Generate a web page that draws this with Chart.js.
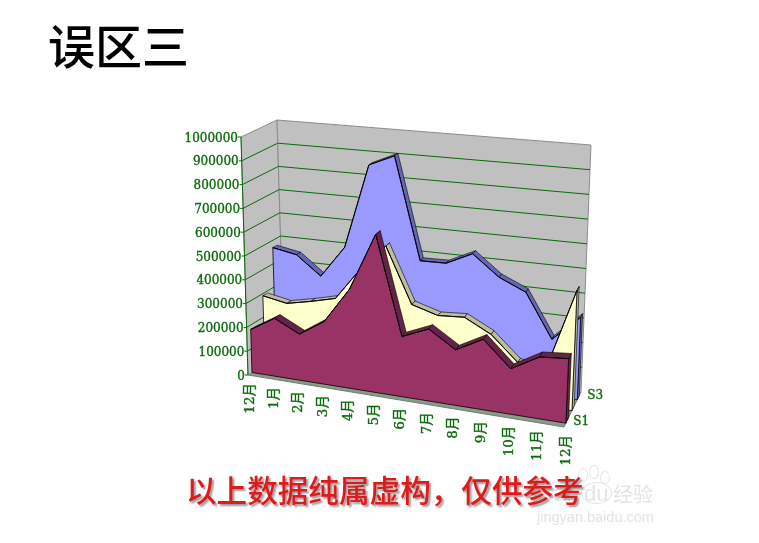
<!DOCTYPE html>
<html>
<head>
<meta charset="utf-8">
<script src="https://cdn.jsdelivr.net/npm/chart.js@4/dist/chart.umd.min.js"></script>
<style>
    html, body { margin: 0; padding: 0; background: #fff; }
    #wrap { position: relative; width: 759px; height: 543px; overflow: hidden; }
    #title { position: absolute; left: 48px; top: 11px; font: 500 47px/66px "Noto Sans CJK SC", sans-serif; color: #000; }
    .wm { position: absolute; color: #e4e4e4; white-space: nowrap; }
    .paw { position: absolute; border: 1px solid #e6e6e6; border-radius: 50%; box-sizing: border-box; }
    #note { position: absolute; left: 186px; top: 467px; font: 500 30.6px/44px "Noto Sans CJK SC", sans-serif; color: #e01a1a; text-shadow: 2px 2px 2px #999; white-space: nowrap; }
    canvas { position: absolute; left: 0; top: 0; }
</style>
</head>
<body>
<div id="wrap">
    <canvas id="areaChart" width="759" height="543"></canvas>
    <div id="title">误区三</div>
    <div class="paw" style="left:578px;top:468px;width:10px;height:14px"></div>
    <div class="paw" style="left:589px;top:465px;width:10px;height:14px"></div>
    <div class="paw" style="left:600px;top:471px;width:10px;height:13px"></div>
    <div class="paw" style="left:581px;top:482px;width:31px;height:22px"></div>
    <div class="wm" style="left:537px;top:478px;font:24px/30px 'Liberation Sans',sans-serif">Bai</div>
    <div class="wm" style="left:584px;top:480px;font:22px/28px 'Liberation Sans',sans-serif">du</div>
    <div class="wm" style="left:613px;top:480px;font:20px/28px 'Noto Sans CJK SC',sans-serif">经验</div>
    <div class="wm" style="left:537px;top:508px;font:14.5px/18px 'Liberation Sans',sans-serif">jingyan.baidu.com</div>
    <div id="note">以上数据纯属虚构，仅供参考</div>
</div>
<script>
const months = ['12月', '1月', '2月', '3月', '4月', '5月', '6月', '7月', '8月', '9月', '10月', '11月', '12月'];
const seriesNames = ['S1', 'S2', 'S3'];
const s1 = [181000, 243000, 192000, 260000, 408000, 646000, 244000, 290000, 222000, 280000, 179000, 242000, 252000];
const s2 = [291000, 272000, 294000, 320000, 455000, 564000, 336000, 305000, 312000, 257000, 159000, 144000, 476000];
const s3 = [469000, 450000, 371000, 505000, 862000, 910000, 484000, 486000, 537000, 453000, 405000, 228000, 330000];

const faceColors = ['#993366', '#FFFFCC', '#9999FF'];
const sideColors = ['#66224A', '#BDBD9C', '#6666B8'];
const depths = [[0.11, 0.27], [0.47, 0.60], [0.78, 0.90]];
const axisGreen = '#0A6B0A';
const valueFont = '12px "DejaVu Serif", "Noto Sans CJK SC", serif';
const monthFont = '13.5px "DejaVu Serif", "Noto Sans CJK SC", serif';

// corners of the 3d box on the page
const FBL = [248, 375], FBR = [564, 427], FTL = [241, 137], FTR = [575, 170];
const BBL = [284, 352], BBR = [581, 392], BTL = [277, 120], BTR = [591, 145];

function lerp(a, b, t) {
    return [a[0] + (b[0] - a[0]) * t, a[1] + (b[1] - a[1]) * t];
}

// u along months, v along values, d into the depth
function project(u, v, d) {
    const w = 0.91 * u / (1 - 0.09 * u);
    const front = lerp(lerp(FBL, FBR, w), lerp(FTL, FTR, w), v);
    const back = lerp(lerp(BBL, BBR, w), lerp(BTL, BTR, w), v);
    return lerp(front, back, d);
}

function poly(ctx, pts, fill, stroke, lw) {
    ctx.beginPath();
    pts.forEach((p, i) => i ? ctx.lineTo(p[0], p[1]) : ctx.moveTo(p[0], p[1]));
    ctx.closePath();
    if (fill) {
        ctx.fillStyle = fill;
        ctx.fill();
    }
    if (stroke) {
        ctx.strokeStyle = stroke;
        ctx.lineWidth = lw || 1;
        ctx.stroke();
    }
}

function toUV(chart, x, y) {
    const a = chart.chartArea;
    return [(x - a.left) / (a.right - a.left), (a.bottom - y) / (a.bottom - a.top)];
}

function heavyText(ctx, text, x, y) {
    ctx.fillText(text, x, y);
    ctx.strokeText(text, x, y);
}

const box3d = {
    id: 'box3d',
    afterDatasetsUpdate(chart) {
        // move the points the scales placed onto their plane in the box
        chart.data.datasets.forEach((ds, k) => {
            const meta = chart.getDatasetMeta(k);
            meta.uv = meta.data.map(pt => toUV(chart, pt.x, pt.y));
            meta.data.forEach((pt, i) => {
                const p = project(meta.uv[i][0], meta.uv[i][1], depths[k][0]);
                pt.x = p[0];
                pt.y = p[1];
            });
        });
    },
    beforeDatasetsDraw(chart) {
        const ctx = chart.ctx;
        const yScale = chart.scales.y;
        const xScale = chart.scales.x;
        ctx.save();
        poly(ctx, [FBL, FBR, BBR, BBL], '#8A9A8A', '#6F806F');
        poly(ctx, [FBL, FTL, BTL, BBL], '#C0C0C0', '#8C8C8C');
        poly(ctx, [BBL, BTL, BTR, BBR], '#C0C0C0', '#8C8C8C');

        ctx.strokeStyle = axisGreen;
        ctx.lineWidth = 1;
        yScale.ticks.forEach(t => {
            const v = toUV(chart, 0, yScale.getPixelForValue(t.value))[1];
            if (t.value > 0 && t.value < yScale.max) {
                const a = project(0, v, 0), b = project(0, v, 1), c = project(1, v, 1);
                ctx.beginPath();
                ctx.moveTo(a[0], a[1]);
                ctx.lineTo(b[0], b[1]);
                ctx.lineTo(c[0], c[1]);
                ctx.stroke();
            }
        });
        // axis lines and ticks
        ctx.beginPath();
        ctx.moveTo(FBL[0], FBL[1]);
        ctx.lineTo(FTL[0], FTL[1]);
        ctx.stroke();
        yScale.ticks.forEach(t => {
            const v = toUV(chart, 0, yScale.getPixelForValue(t.value))[1];
            const a = project(0, v, 0);
            ctx.beginPath();
            ctx.moveTo(a[0] - 3, a[1]);
            ctx.lineTo(a[0], a[1]);
            ctx.stroke();
        });

        ctx.font = valueFont;
        ctx.fillStyle = axisGreen;
        ctx.strokeStyle = axisGreen;
        ctx.lineWidth = 0.35;
        ctx.textAlign = 'right';
        ctx.textBaseline = 'middle';
        yScale.ticks.forEach(t => {
            const v = toUV(chart, 0, yScale.getPixelForValue(t.value))[1];
            const a = project(0, v, 0);
            heavyText(ctx, String(t.value), a[0] - 3, a[1] + 1.5);
        });
        ctx.font = monthFont;
        months.forEach((m, i) => {
            const u = toUV(chart, xScale.getPixelForValue(i), 0)[0];
            const a = project(u, 0, 0);
            ctx.save();
            ctx.translate(a[0] + 2, a[1] + 8);
            ctx.rotate(-Math.PI / 2);
            ctx.textAlign = 'right';
            heavyText(ctx, m, 0, 0);
            ctx.restore();
        });
        // series names on the right floor edge, middle one is skipped like excel does
        ctx.font = valueFont;
        ctx.textAlign = 'left';
        [[0, 6, 2], [2, 9, -1.5]].forEach(s => {
            const k = s[0];
            const a = project(1, 0, (depths[k][0] + depths[k][1]) / 2);
            heavyText(ctx, seriesNames[k], a[0] + s[1], a[1] + s[2]);
        });
        ctx.restore();
    },
    beforeDatasetDraw(chart, args) {
        const ctx = chart.ctx;
        const k = args.index;
        const meta = args.meta;
        const uv = meta.uv;
        const d0 = depths[k][0], d1 = depths[k][1];
        const last = uv.length - 1;
        ctx.save();
        ctx.lineJoin = 'round';
        // end cap on the right
        const capA = project(uv[last][0], 0, d0), capB = project(uv[last][0], uv[last][1], d0);
        const capC = project(uv[last][0], uv[last][1], d1), capD = project(uv[last][0], 0, d1);
        poly(ctx, [capA, capB, capC, capD], sideColors[k], '#000', 0.6);
        // top ribbon
        for (let i = 0; i < last; i++) {
            poly(ctx, [
                project(uv[i][0], uv[i][1], d0),
                project(uv[i + 1][0], uv[i + 1][1], d0),
                project(uv[i + 1][0], uv[i + 1][1], d1),
                project(uv[i][0], uv[i][1], d1)
            ], sideColors[k], '#000', 0.6);
        }
        // front face
        const face = uv.map(p => project(p[0], p[1], d0));
        face.push(project(uv[last][0], 0, d0));
        face.push(project(uv[0][0], 0, d0));
        poly(ctx, face, faceColors[k], '#000', 0.8);
        ctx.restore();
    }
};

const areactx = document.getElementById('areaChart').getContext('2d');
const areaChart = new Chart(areactx, {
    type: 'line',
    data: {
        labels: months,
        datasets: [
            { label: seriesNames[0], data: s1, backgroundColor: faceColors[0], borderColor: '#000', borderWidth: 0.8, pointRadius: 0, tension: 0, fill: false, clip: false },
            { label: seriesNames[1], data: s2, backgroundColor: faceColors[1], borderColor: '#000', borderWidth: 0.8, pointRadius: 0, tension: 0, fill: false, clip: false },
            { label: seriesNames[2], data: s3, backgroundColor: faceColors[2], borderColor: '#000', borderWidth: 0.8, pointRadius: 0, tension: 0, fill: false, clip: false }
        ]
    },
    options: {
        responsive: false,
        animation: false,
        events: [],
        layout: { padding: 0 },
        plugins: {
            legend: { display: false },
            title: { display: false },
            tooltip: { enabled: false }
        },
        scales: {
            x: { display: false, ticks: { autoSkip: false } },
            y: { display: false, min: 0, max: 1000000, ticks: { stepSize: 100000 } }
        }
    },
    plugins: [box3d]
});
</script>
</body>
</html>
